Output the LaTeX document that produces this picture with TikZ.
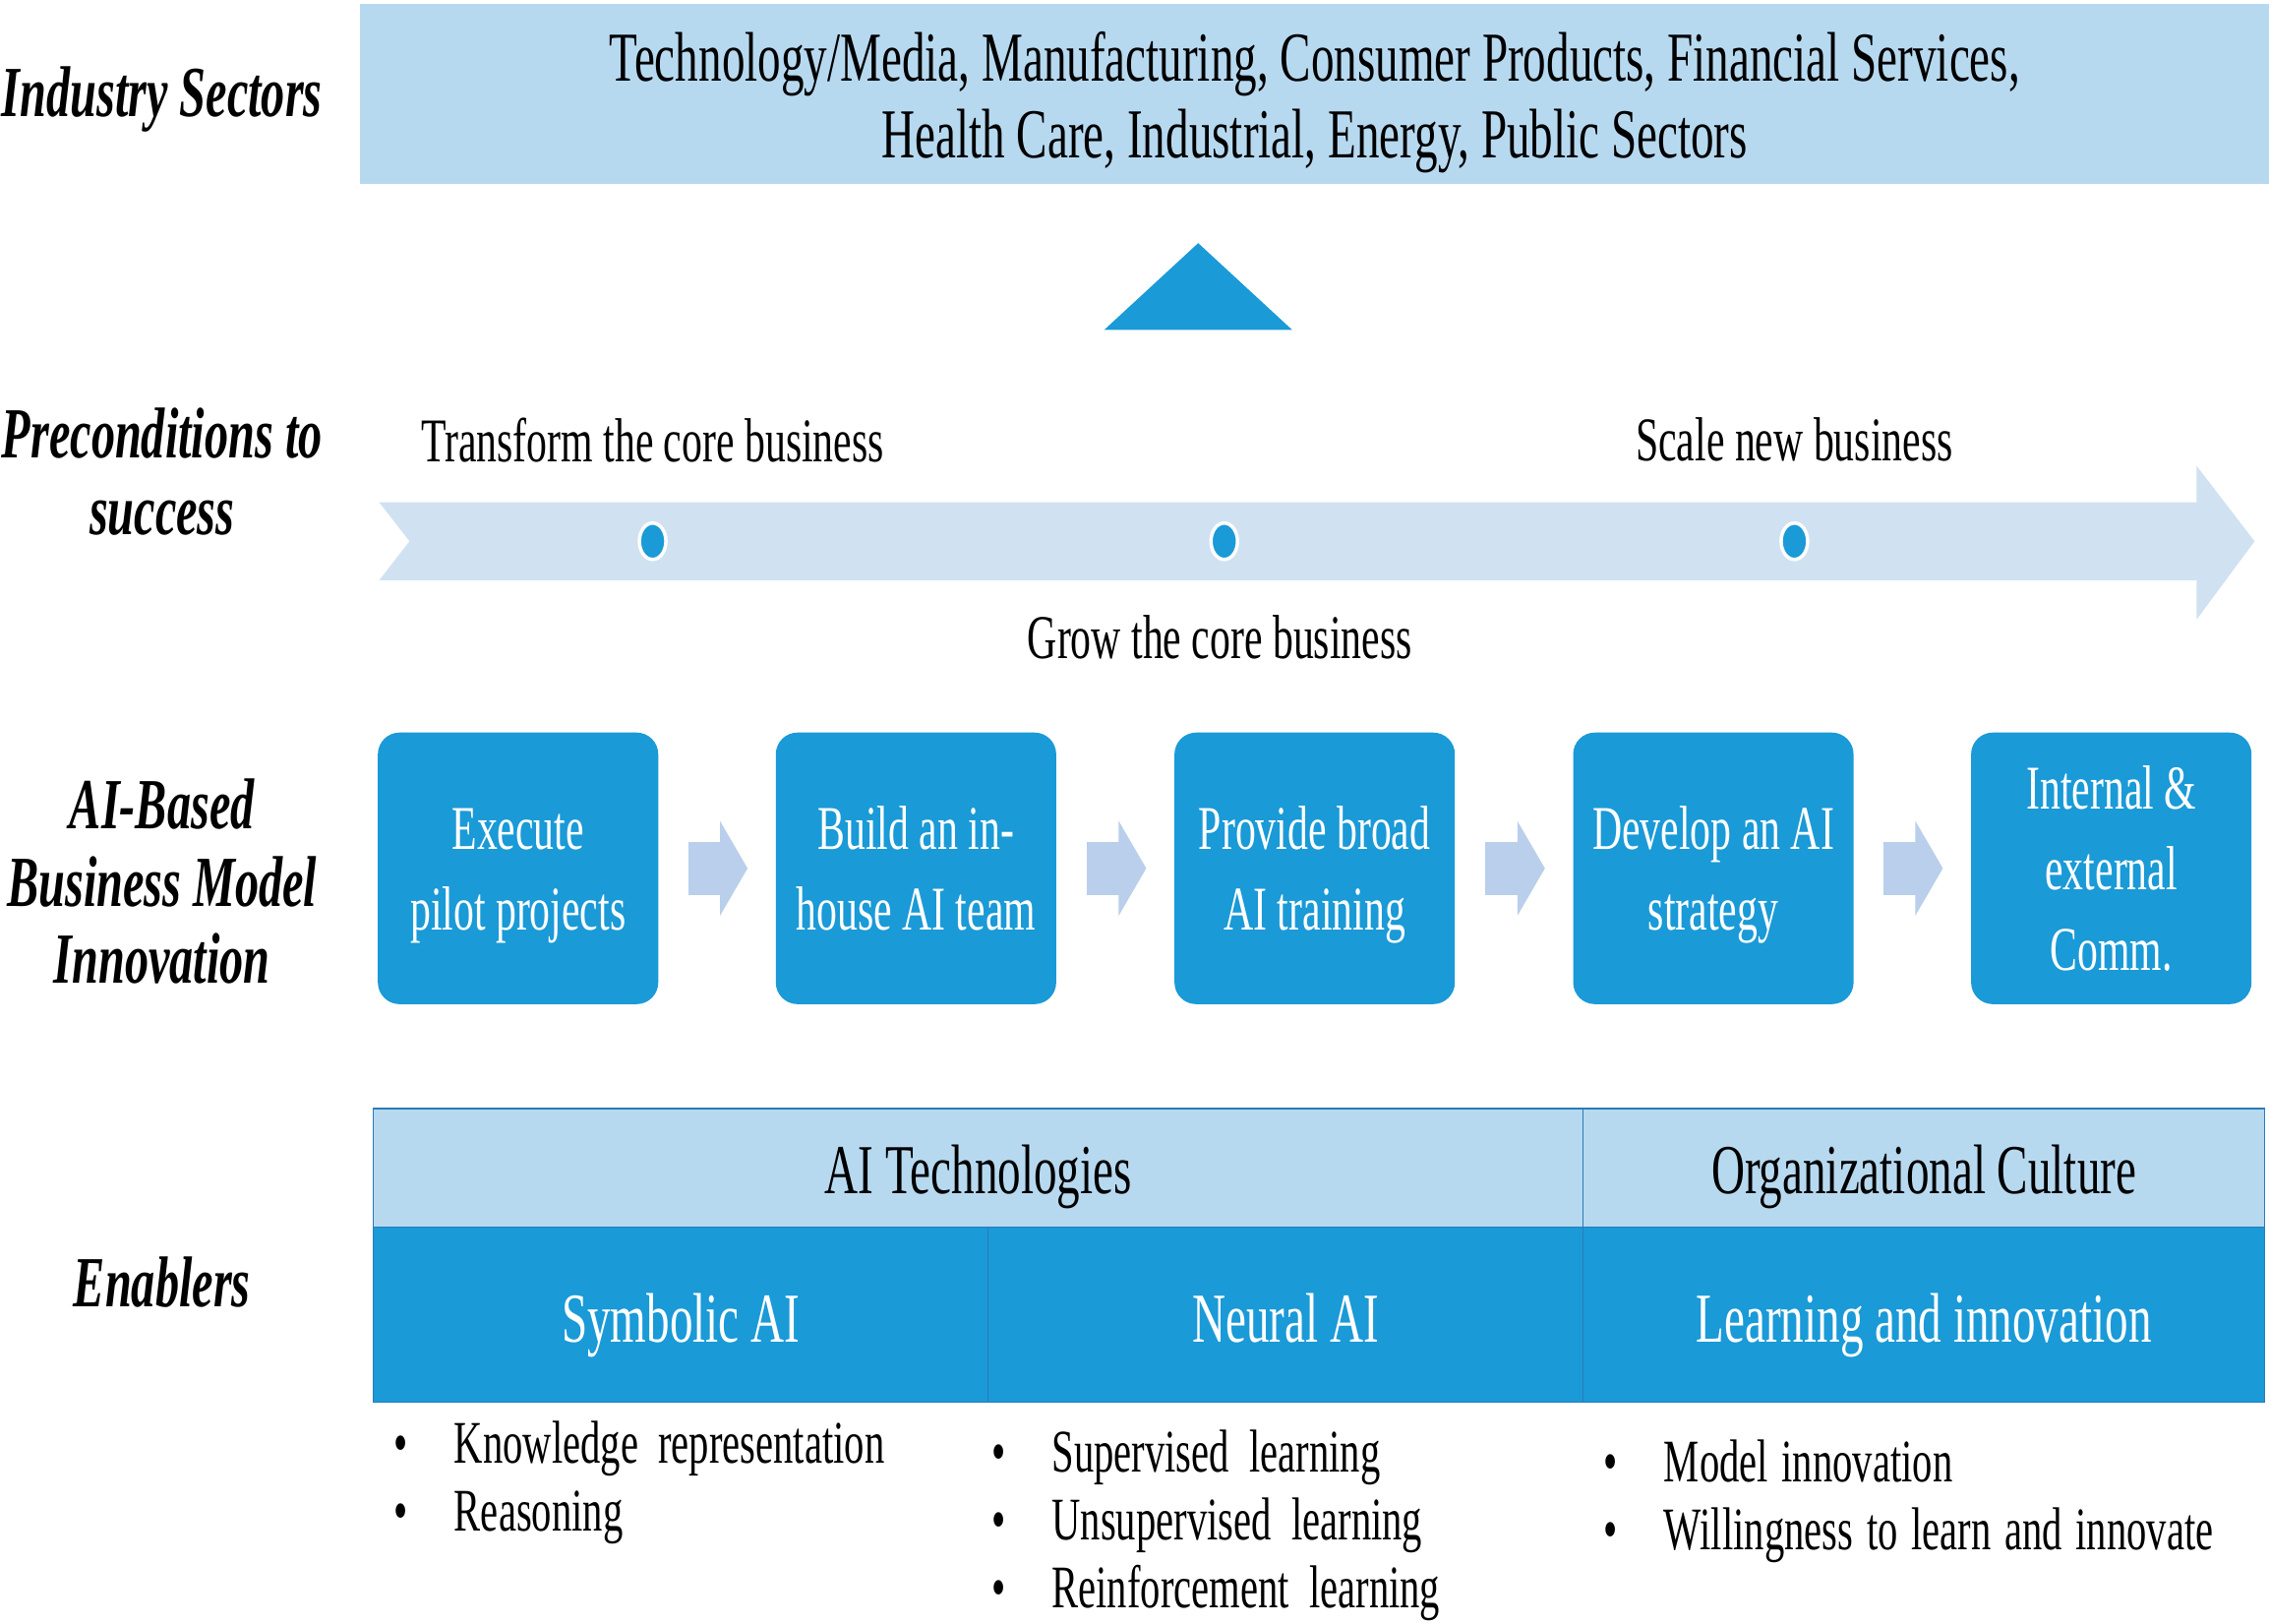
\documentclass[tikz,border=0pt]{standalone}
\usepackage{fontspec}
\setmainfont[FakeStretch=0.66]{Liberation Serif}
\usetikzlibrary{arrows.meta, shapes.geometric}

\definecolor{bannerblue}{RGB}{183,217,240}
\definecolor{boxblue}{RGB}{26,154,215}
\definecolor{bandblue}{RGB}{208,225,241}
\definecolor{chevblue}{RGB}{185,207,235}
\definecolor{lineblue}{RGB}{43,123,185}

% line holders for the step boxes
\newcommand{\tophold}{\rule{0pt}{16.2pt}}
\newcommand{\bothold}{\rule[-4pt]{0pt}{4pt}}

\begin{document}
\begin{tikzpicture}[
    x=0.1471mm, y=-0.1471mm,
    rowlabel/.style={font=\fontsize{20.8}{22.2}\selectfont\bfseries\itshape, align=center},
    plain/.style={font=\fontsize{18}{22.5}\selectfont, align=center},
    banner/.style={rectangle, fill=bannerblue, minimum width=194mm, minimum height=18.2mm, font=\fontsize{20.3}{22.2}\selectfont, align=center},
    stepbox/.style={rectangle, fill=boxblue, rounded corners=2.2mm, minimum width=28.5mm, minimum height=27.6mm, inner sep=0pt, text=white, font=\fontsize{18}{23.3}\selectfont, align=center},
    chevron/.style={draw=chevblue, line width=5.45mm, -{Triangle[length=2.8mm, width=9.5mm]}, shorten <=3mm, shorten >=2.8mm},
    dot/.style={ellipse, fill=boxblue, draw=white, line width=0.35mm, minimum width=2.7mm, minimum height=3.7mm, inner sep=0pt},
    headcell/.style={rectangle, fill=bannerblue, draw=lineblue, minimum height=12.06mm, text height=5.6mm, text depth=0.4mm, font=\fontsize{20.3}{23}\selectfont},
    maincell/.style={rectangle, fill=boxblue, draw=lineblue, minimum height=17.8mm, text height=6mm, text depth=0.5mm, text=white, font=\fontsize{20.3}{23}\selectfont},
    item/.style={anchor=west, inner sep=0pt, text height=4.25mm, text depth=1.35mm, font=\fontsize{17.5}{21}\selectfont},
    ]

    \useasboundingbox (0,0) rectangle (1568,1122);
    \fill[white] (0,0) rectangle (1568,1122);

    % Row labels
    \node[rowlabel] (lsectors) at (112,69) {Industry Sectors};
    \node[rowlabel] (lprecond) at (112,326) {Preconditions to\\success};
    \node[rowlabel] (linnov) at (112,609) {AI-Based\\Business Model\\Innovation};
    \node[rowlabel] (lenablers) at (112,886) {Enablers};

    % Industry sectors banner
    \node[banner] (sectors) at (908.5,65) {\rule{0pt}{19pt}Technology/Media, Manufacturing, Consumer Products, Financial Services,\\Health Care, Industrial, Energy, Public Sectors};

    % Upward triangle
    \fill[boxblue] (828,168) -- (893,228) -- (763,228) -- cycle;

    % Preconditions band
    \fill[bandblue] (262,347) -- (1518,347) -- (1518,322) -- (1558,374) -- (1518,428) -- (1518,401) -- (262,401) -- (283,374) -- cycle;
    \node[dot] (dot1) at (451,374) {};
    \node[dot] (dot2) at (846,374) {};
    \node[dot] (dot3) at (1240,374) {};
    \node[plain] (transform) at (451,304) {Transform the core business};
    \node[plain] (scale) at (1240,304) {Scale new business};
    \node[plain] (grow) at (843,440) {Grow the core business};

    % Business model innovation steps
    \node[stepbox] (s1) at (358,600) {\tophold Execute\\pilot projects\bothold};
    \node[stepbox] (s2) at (633,600) {\tophold Build an in-\\house AI team\bothold};
    \node[stepbox] (s3) at (908.5,600) {\tophold Provide broad\\AI training\bothold};
    \node[stepbox] (s4) at (1184,600) {\tophold Develop an AI\\strategy\bothold};
    \node[stepbox] (s5) at (1459,600) {\tophold Internal \&\\external\\Comm.\bothold};

    \draw[chevron] (s1) -- (s2);
    \draw[chevron] (s2) -- (s3);
    \draw[chevron] (s3) -- (s4);
    \draw[chevron] (s4) -- (s5);

    % Enablers table
    \node[headcell, minimum width=123mm] (aitech) at (676,807) {AI Technologies};
    \node[headcell, minimum width=69.3mm] (orgcult) at (1329.5,807) {Organizational Culture};
    \node[maincell, minimum width=62.5mm] (symbolic) at (470.5,908.5) {Symbolic AI};
    \node[maincell, minimum width=60.5mm] (neural) at (888.5,908.5) {Neural AI};
    \node[maincell, minimum width=69.3mm] (learning) at (1329.5,908.5) {Learning and innovation};

    % Bullet lists
    \node[item] (k1) at (272,1001) {\makebox[6.1mm][l]{\textbullet}Knowledge\ \ representation};
    \node[item] (k2) at (272,1048) {\makebox[6.1mm][l]{\textbullet}Reasoning};
    \node[item] (n1) at (685,1007) {\makebox[6.1mm][l]{\textbullet}Supervised\ \ learning};
    \node[item] (n2) at (685,1054) {\makebox[6.1mm][l]{\textbullet}Unsupervised\ \ learning};
    \node[item] (n3) at (685,1101) {\makebox[6.1mm][l]{\textbullet}Reinforcement\ \ learning};
    \node[item] (c1) at (1108,1014) {\spaceskip=3.9pt\makebox[6.1mm][l]{\textbullet}Model innovation};
    \node[item] (c2) at (1108,1061) {\spaceskip=3.9pt\makebox[6.1mm][l]{\textbullet}Willingness to learn and innovate};

\end{tikzpicture}
\end{document}
